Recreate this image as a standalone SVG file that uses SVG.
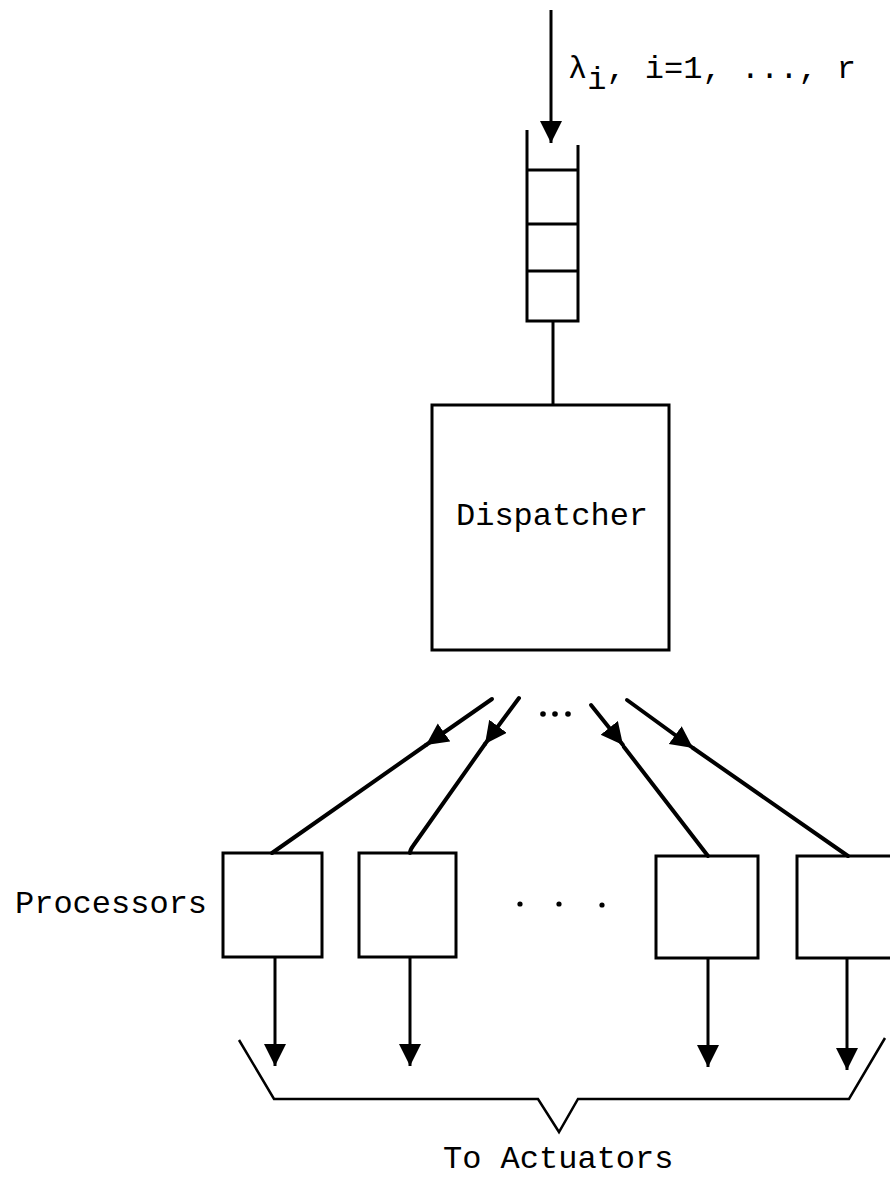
<svg xmlns="http://www.w3.org/2000/svg" width="890" height="1180" viewBox="0 0 890 1180">
<style>
  .box { fill: none; stroke: #000; stroke-width: 3; }
  .ln { fill: none; stroke: #000; stroke-width: 4; stroke-linecap: round; }
  .vl { fill: none; stroke: #000; stroke-width: 3; }
  .br { fill: none; stroke: #000; stroke-width: 2.5; stroke-linejoin: miter; }
  .t { font-family: "Liberation Mono", "DejaVu Sans Mono", monospace; font-size: 32px; fill: #000; }
  .dot { fill: #000; }
</style>
<defs>
  <marker id="ah" markerUnits="userSpaceOnUse" markerWidth="24" markerHeight="24" refX="22" refY="11" orient="auto">
    <path d="M0,0 L22,11 L0,22 z" fill="#000"/>
  </marker>
</defs>
<rect width="890" height="1180" fill="#fff"/>

<g id="input">
  <line class="vl" x1="551" y1="10" x2="551" y2="143" marker-end="url(#ah)"/>
  <text class="t" x="568" y="78">λ<tspan dy="11">i</tspan><tspan dy="-11">, i=1, ..., r</tspan></text>
</g>

<g id="queue">
  <path class="vl" d="M527,130 V321 H578 V145"/>
  <line class="vl" x1="527" y1="170" x2="578" y2="170"/>
  <line class="vl" x1="527" y1="224" x2="578" y2="224"/>
  <line class="vl" x1="527" y1="271" x2="578" y2="271"/>
</g>

<g id="dispatcher">
  <rect class="box" x="432" y="405" width="237" height="245"/>
  <text class="t" x="456" y="525">Dispatcher</text>
</g>

<g id="processors">
  <text class="t" x="15" y="913">Processors</text>
  <g id="p1"><rect class="box" x="223" y="853" width="99" height="104"/></g>
  <g id="p2"><rect class="box" x="359" y="853" width="97" height="104"/></g>
  <g id="p3"><rect class="box" x="656" y="856" width="102" height="102"/></g>
  <g id="p4"><rect class="box" x="797" y="856" width="100" height="102"/></g>
  <circle class="dot" cx="520" cy="904" r="2.6"/>
  <circle class="dot" cx="559" cy="904" r="2.6"/>
  <circle class="dot" cx="602" cy="905" r="2.6"/>
</g>

<g id="connectors">
  <line class="vl" x1="553" y1="321" x2="553" y2="405"/>
  <circle class="dot" cx="543" cy="714" r="2.8"/>
  <circle class="dot" cx="555" cy="714" r="2.8"/>
  <circle class="dot" cx="568" cy="714" r="2.8"/>

  <line class="ln" x1="492" y1="699" x2="426" y2="745" marker-end="url(#ah)"/>
  <line class="ln" x1="426" y1="745" x2="272" y2="853"/>

  <line class="ln" x1="519" y1="698" x2="485" y2="744" marker-end="url(#ah)"/>
  <path class="ln" d="M485,744 L413,846 Q410,850 410,853"/>

  <line class="ln" x1="591" y1="705" x2="623" y2="745" marker-end="url(#ah)"/>
  <line class="ln" x1="624" y1="747" x2="708" y2="856"/>

  <line class="ln" x1="627" y1="700" x2="693" y2="748" marker-end="url(#ah)"/>
  <line class="ln" x1="693" y1="748" x2="848" y2="856"/>

  <line class="vl" x1="275" y1="957" x2="275" y2="1066" marker-end="url(#ah)"/>
  <line class="vl" x1="410" y1="957" x2="410" y2="1066" marker-end="url(#ah)"/>
  <line class="vl" x1="708" y1="958" x2="708" y2="1067" marker-end="url(#ah)"/>
  <line class="vl" x1="847" y1="958" x2="847" y2="1070" marker-end="url(#ah)"/>
</g>

<g id="bracket">
  <path class="br" d="M239,1040 L274,1099 H538 L559,1132 L578,1099 H849 L885,1038"/>
  <text class="t" x="443" y="1168">To Actuators</text>
</g>
</svg>
